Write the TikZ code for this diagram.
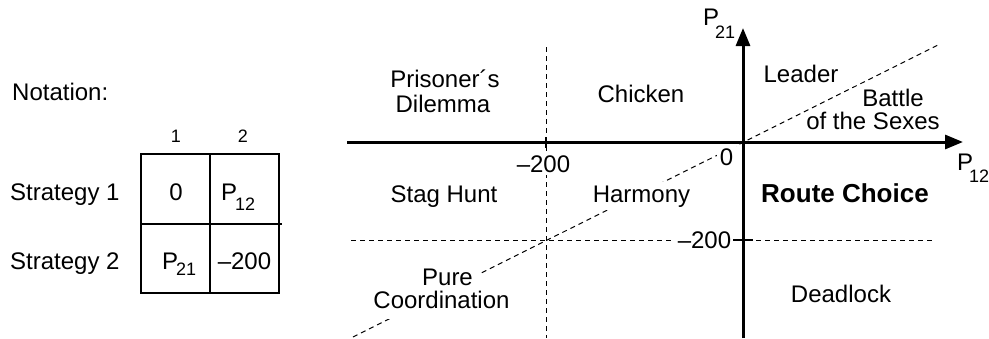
\documentclass[tikz,border=0pt]{standalone}
\usepackage{fontspec}
\setmainfont{Liberation Sans}
\usetikzlibrary{arrows.meta}
\newcommand\Psub[3][3pt]{P\kern-#1\raisebox{-#2}{\fontsize{18}{18}\selectfont #3}}
\begin{document}
\begin{tikzpicture}[x=1pt,y=-1pt,
  lbl/.style={font=\fontsize{24}{25}\selectfont, inner sep=0pt},
  small/.style={font=\fontsize{18}{20}\selectfont, inner sep=0pt},
  cut/.style={lbl, fill=white, inner sep=3pt},
  axis/.style={line width=3pt, -{Triangle[length=18pt,width=14pt]}},
  tickmark/.style={line width=2pt},
  guide/.style={line width=1pt, dash pattern=on 5pt off 4pt},
  tbl/.style={line width=1.2pt}]
\useasboundingbox (0,0) rectangle (989,338);

% ---------- notation table ----------
\node[lbl, anchor=base west] (notation) at (12,100) {Notation:};
\node[small, anchor=base] (c1) at (176,142) {1};
\node[small, anchor=base] (c2) at (243,142) {2};
\node[lbl, anchor=base west] (s1) at (10,200) {Strategy 1};
\node[lbl, anchor=base west] (s2) at (10,269) {Strategy 2};
\coordinate (tl) at (141,154);
\coordinate (br) at (279,293);
\draw[tbl] (tl) rectangle (br);
\draw[tbl] (210,154) -- (210,293);
\draw[tbl] (141,224) -- (282,224);
\node[lbl, anchor=base] (a11) at (176,200) {0};
\node[lbl, anchor=base west] (a12) at (221,200) {\Psub[2pt]{10pt}{12}};
\node[lbl, anchor=base west] (a21) at (162,269) {\Psub[2pt]{6pt}{21}};
\node[lbl, anchor=base] (a22) at (244.5,269) {--200};

% ---------- chart ----------
\coordinate (O) at (743,142);
\coordinate (xs) at (347,142);
\coordinate (xe) at (963,142);
\coordinate (ys) at (743,338);
\coordinate (ye) at (743,28);
\coordinate (vtop) at (546,47);
\coordinate (vbot) at (546,338);
\coordinate (hl) at (351,240);
\coordinate (hr) at (935,240);
\coordinate (dl) at (353,337);
\coordinate (dr) at (940,44);

\draw[guide] (vtop) -- (vbot);
\draw[guide] (hl) -- (hr);
\draw[guide] (dl) -- (dr);

\node[lbl, anchor=base] (pd1) at (445,87) {Prisoner´s};
\node[lbl, anchor=base] (pd2) at (443,112) {Dilemma};
\node[lbl, anchor=base] (chicken) at (641,102) {Chicken};
\node[lbl, anchor=base] (leader) at (801,82) {Leader};
\node[lbl, anchor=base] (bos1) at (893,106) {Battle};
\node[lbl, anchor=base] (bos2) at (873,129) {of the Sexes};
\node[cut, anchor=base] (m200x) at (543.5,172) {--200};
\node[cut, anchor=base] (zero) at (726.5,165) {0};
\node[lbl, anchor=base] (stag) at (444,202) {Stag Hunt};
\node[cut, anchor=base] (harmony) at (641.5,202) {Harmony};
\node[lbl, anchor=base, font=\fontsize{26}{27}\selectfont\bfseries] (route) at (845,202) {Route Choice};
\node[cut, anchor=base] (m200y) at (704.5,248) {--200};
\node[cut, anchor=base, inner xsep=8pt] (pure1) at (447.5,285) {Pure};
\node[cut, anchor=base, text depth=8pt] (pure2) at (441.5,308) {Coordination};
\node[lbl, anchor=base] (deadlock) at (841,302) {Deadlock};

\draw[axis] (xs) -- (xe);
\draw[axis] (ys) -- (ye);
\draw[tickmark] (546,137) -- (546,148);
\draw[tickmark] (733,240) -- (753,240);

\node[lbl, anchor=base west] (p21) at (703,25) {\Psub[4pt]{13pt}{21}};
\node[lbl, anchor=base west] (p12) at (957,170) {\Psub[4pt]{12pt}{12}};
\end{tikzpicture}
\end{document}
